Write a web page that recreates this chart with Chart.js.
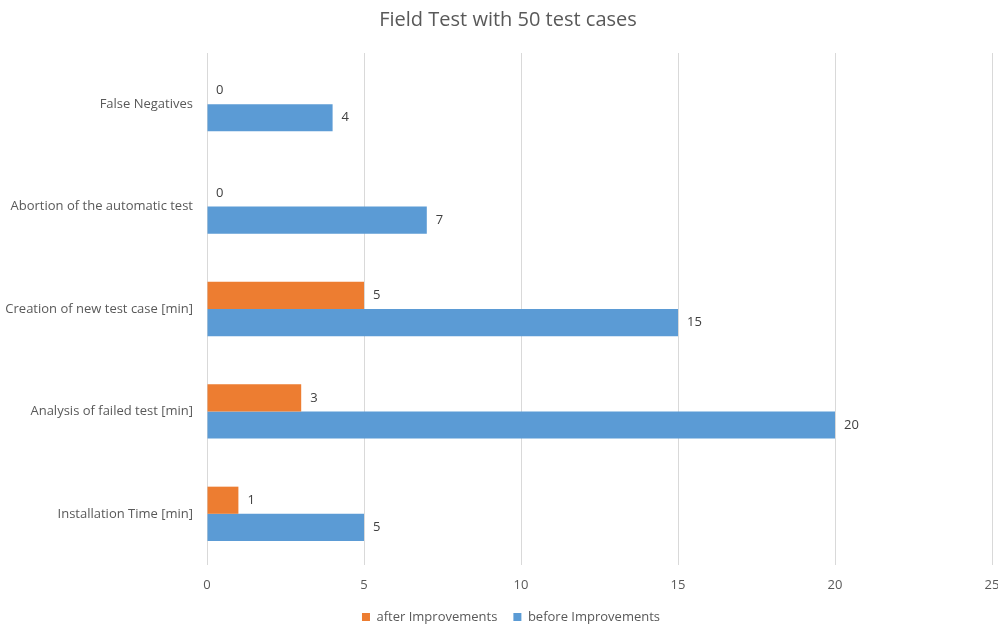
<!DOCTYPE html>
<html>
<head>
<meta charset="utf-8">
<script src="https://cdn.jsdelivr.net/npm/chart.js@4/dist/chart.umd.min.js"></script>
<style>
  html, body { margin: 0; padding: 0; background: #ffffff; }
  #wrap { width: 998px; height: 624px; }
</style>
</head>
<body>
<div id="wrap"><canvas id="chart" width="998" height="624"></canvas></div>
<script>
// Categories, top to bottom
const categories = [
  'False Negatives',
  'Abortion of the automatic test',
  'Creation of new test case [min]',
  'Analysis of failed test [min]',
  'Installation Time [min]'
];
const afterImprovements = [0, 0, 5, 3, 1];
const beforeImprovements = [4, 7, 15, 20, 5];
const xTicks = [0, 5, 10, 15, 20, 25];

const FONT = "'Open Sans', 'Noto Sans', sans-serif";

// Writes each bar's value just past its end
const valueLabels = {
  id: 'valueLabels',
  afterDatasetsDraw(chart) {
    const ctx = chart.ctx;
    ctx.save();
    ctx.font = '13px ' + FONT;
    ctx.fillStyle = '#404040';
    ctx.textAlign = 'left';
    ctx.textBaseline = 'middle';
    chart.data.datasets.forEach((ds, di) => {
      const meta = chart.getDatasetMeta(di);
      meta.data.forEach((bar, i) => {
        ctx.fillText(String(ds.data[i]), bar.x + 9, bar.y);
      });
    });
    ctx.restore();
  }
};

// Nudges the title and legend a little to the right of the canvas centre
const shiftBlocks = {
  id: 'shiftBlocks',
  afterLayout(chart) {
    const boxes = [[chart.titleBlock, 12], [chart.legend, 15]];
    boxes.forEach(([box, dx]) => {
      if (!box) return;
      box.left += dx;
      box.right += dx;
    });
  }
};

new Chart(document.getElementById('chart'), {
  type: 'bar',
  data: {
    labels: categories,
    datasets: [
      {
        label: 'after Improvements',
        data: afterImprovements,
        backgroundColor: '#ED7D31',
        borderWidth: 0,
        barPercentage: 1,
        categoryPercentage: 0.53
      },
      {
        label: 'before Improvements',
        data: beforeImprovements,
        backgroundColor: '#5B9BD5',
        borderWidth: 0,
        barPercentage: 1,
        categoryPercentage: 0.53
      }
    ]
  },
  options: {
    indexAxis: 'y',
    responsive: false,
    animation: false,
    layout: { padding: { left: 0, right: 6, top: 0, bottom: -9.5 } },
    plugins: {
      title: {
        display: true,
        text: 'Field Test with 50 test cases',
        color: '#595959',
        font: { family: FONT, size: 20, weight: 'normal' },
        padding: { top: 8, bottom: 21 }
      },
      legend: {
        position: 'bottom',
        labels: {
          color: '#595959',
          font: { family: FONT, size: 13 },
          boxWidth: 8,
          boxHeight: 8,
          padding: 16
        }
      },
      tooltip: { enabled: false }
    },
    scales: {
      x: {
        min: 0,
        max: 25,
        afterBuildTicks(scale) {
          scale.ticks = xTicks.map(v => ({ value: v }));
        },
        afterFit(scale) {
          scale.height = 29.5;
          scale.paddingLeft = 0;
          scale.paddingRight = 0;
        },
        grid: { color: '#d9d9d9', drawTicks: false },
        border: { display: false },
        ticks: {
          color: '#595959',
          font: { family: FONT, size: 13 },
          padding: 12
        }
      },
      y: {
        afterFit(scale) { scale.width = 207; },
        grid: { display: false, drawTicks: false },
        border: { display: false },
        ticks: {
          color: '#595959',
          font: { family: FONT, size: 13 },
          padding: 14
        }
      }
    }
  },
  plugins: [valueLabels, shiftBlocks]
});
</script>
</body>
</html>
